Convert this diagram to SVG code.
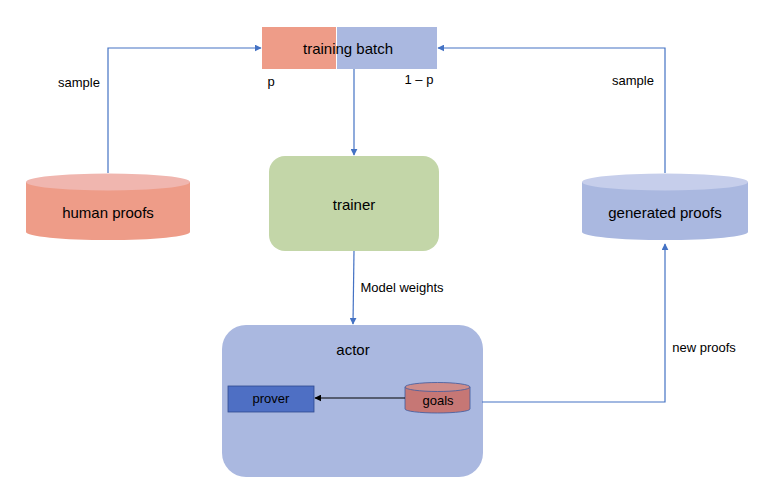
<svg xmlns="http://www.w3.org/2000/svg" width="782" height="494" viewBox="0 0 782 494">
<style>
text{font-family:"Liberation Sans",Arial,sans-serif;fill:#000;text-anchor:middle}
.l{font-size:15px}
.s{font-size:13px}
.c{fill:none;stroke:#4472C4;stroke-width:1.2}
</style>
<defs>
<marker id="ab" viewBox="0 0 10 10" refX="9" refY="5" markerWidth="7" markerHeight="7" markerUnits="userSpaceOnUse" orient="auto"><path d="M0,0L10,5L0,10z" fill="#4472C4"/></marker>
<marker id="ak" viewBox="0 0 10 10" refX="9" refY="5" markerWidth="7" markerHeight="7" markerUnits="userSpaceOnUse" orient="auto"><path d="M0,0L10,5L0,10z" fill="#000"/></marker>
</defs>
<rect width="782" height="494" fill="#fff"/>
<g id="training-batch">
<rect x="262" y="27" width="74" height="42" fill="#EE9C88"/>
<rect x="337" y="27" width="100" height="42" fill="#AAB8E0"/>
<text class="l" x="348" y="54">training batch</text>
</g>
<g id="human-proofs">
<path d="M26,182V232A82,8 0 0 0 190,232V182z" fill="#EE9C88"/>
<ellipse cx="108" cy="182" rx="82" ry="8.5" fill="#F0B6AF"/>
<text class="l" x="108" y="218">human proofs</text>
</g>
<g id="generated-proofs">
<path d="M582,182V232A83,8 0 0 0 748,232V182z" fill="#AAB8E0"/>
<ellipse cx="665" cy="182" rx="83" ry="8.5" fill="#C6CEEB"/>
<text class="l" x="665" y="218">generated proofs</text>
</g>
<g id="trainer">
<rect x="269" y="156" width="170" height="95" rx="16" fill="#C3D6A8"/>
<text class="l" x="354" y="210">trainer</text>
</g>
<g id="actor">
<rect x="222" y="325" width="261" height="152" rx="24" fill="#AAB8E0"/>
<text class="l" x="353" y="355">actor</text>
</g>
<g id="prover">
<rect x="228" y="386" width="86" height="26" fill="#4E6FC4" stroke="#2F4A8F" stroke-width="0.8"/>
<text class="s" x="271" y="403">prover</text>
</g>
<g id="goals">
<path d="M405,387V409A32.5,4 0 0 0 470,409V387" fill="#C67775" stroke="#3D5A9E" stroke-width="0.8"/>
<ellipse cx="437.5" cy="387" rx="32.5" ry="4.5" fill="#CE8C8A" stroke="#3D5A9E" stroke-width="0.8"/>
<text class="s" x="438" y="405">goals</text>
</g>
<g id="connectors">
<path class="c" d="M108,173V48H261" marker-end="url(#ab)"/>
<path class="c" d="M665,173V48H438" marker-end="url(#ab)"/>
<path class="c" d="M354,69V155" marker-end="url(#ab)"/>
<path class="c" d="M354,251L353,324" marker-end="url(#ab)"/>
<path class="c" d="M482,402H665V244" marker-end="url(#ab)" stroke="#7F98D6"/>
<path d="M405,398H315" stroke="#000" stroke-width="1.2" fill="none" marker-end="url(#ak)"/>
<text class="s" x="79" y="87">sample</text>
<text class="s" x="633" y="85">sample</text>
<text class="s" x="402" y="292">Model weights</text>
<text class="s" x="704" y="352">new proofs</text>
<text class="s" x="271" y="86">p</text>
<text class="s" x="419" y="84">1 – p</text>
</g>
</svg>
